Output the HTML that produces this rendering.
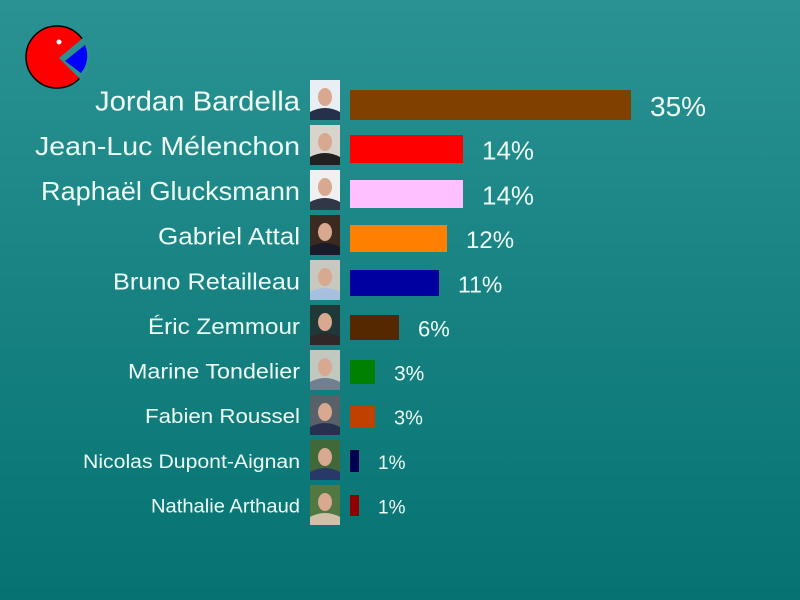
<!DOCTYPE html>
<html><head><meta charset="utf-8"><style>
html,body{margin:0;padding:0;width:800px;height:600px;overflow:hidden}
svg{display:block}
text{font-family:"Liberation Sans",Arial,sans-serif;fill:#eefcf6}
</style></head><body>
<svg width="800" height="600" xmlns="http://www.w3.org/2000/svg">
<defs>
<linearGradient id="bg" x1="0" y1="0" x2="0" y2="1">
<stop offset="0" stop-color="#2a9292"/><stop offset="1" stop-color="#067272"/>
</linearGradient>
</defs>
<rect width="800" height="600" fill="url(#bg)"/>
<circle cx="57" cy="57" r="31" fill="#ff0000" stroke="#000" stroke-width="1.5"/>
<path d="M59,58 L84,37 A33,33 0 0 1 81,80 Z" fill="#2a9090"/>
<path d="M65,61 L85,45 A27,27 0 0 1 81,73 Z" fill="#0000ff"/>
<circle cx="59" cy="42" r="2.5" fill="#fff"/>
<g id="rows"></g>
</svg>
<script>
var d=[["Jordan Bardella",35,281,90,30,28,"#7f4000"],
["Jean-Luc Mélenchon",14,113,135,28,26,"#ff0000"],
["Raphaël Glucksmann",14,113,180,28,26,"#ffc0ff"],
["Gabriel Attal",12,97,225,27,24,"#ff8000"],
["Bruno Retailleau",11,89,270,26,23,"#0000a0"],
["Éric Zemmour",6,49,315,25,22,"#552800"],
["Marine Tondelier",3,25,360,24,21,"#008000"],
["Fabien Roussel",3,25,405,23,20,"#c04000"],
["Nicolas Dupont-Aignan",1,9,450,22,19,"#000050"],
["Nathalie Arthaud",1,9,495,21,19,"#900000"]];
var lens=[205,265,259,142,187,152,172,155,217,149];
var bgs=["#e8eef2","#d8d4cc","#f0f0f0","#3a2a20","#c8c8c0","#203838","#c0c8c0","#586068","#406838","#507840"];
var suits=["#25304a","#202020","#303848","#1a1a2a","#a8c0e0","#302828","#708090","#283050","#283868","#d0c0a8"];
var s="";
d.forEach(function(r,i){
 var y=r[3],h=r[4],c=y+h/2,py=80+i*45;
 s+='<rect x="310" y="'+py+'" width="30" height="40" fill="'+bgs[i]+'"/>';
 s+='<path d="M310,'+(py+40)+' L310,'+(py+32)+' Q325,'+(py+24)+' 340,'+(py+32)+' L340,'+(py+40)+' Z" fill="'+suits[i]+'"/>';
 s+='<ellipse cx="325" cy="'+(py+17)+'" rx="7" ry="9" fill="#d8a890"/>';
 s+='<rect x="350" y="'+y+'" width="'+r[2]+'" height="'+h+'" fill="'+r[6]+'"/>';
 s+='<text x="300" y="'+(c+r[5]*0.36-(r[5]-19)*0.5)+'" font-size="'+r[5]+'" text-anchor="end" textLength="'+lens[i]+'" lengthAdjust="spacingAndGlyphs">'+r[0]+'</text>';
 s+='<text x="'+(350+r[2]+19)+'" y="'+(c+r[5]*0.36+1)+'" font-size="'+r[5]+'">'+r[1]+'%</text>';
});
document.getElementById("rows").innerHTML=s;
</script>
</body></html>
